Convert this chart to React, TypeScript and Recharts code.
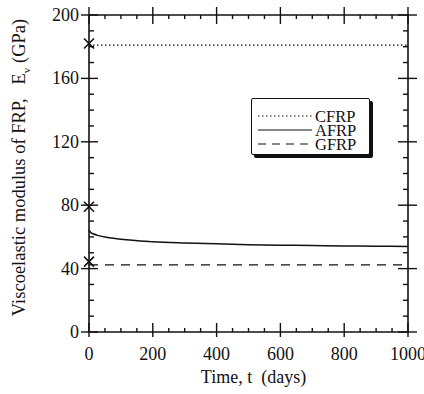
import React from 'react';
import { ComposedChart, Line, Scatter, XAxis, YAxis } from 'recharts';

// Viscoelastic modulus of FRP over time
const afrpDays = [0, 5, 15, 30, 60, 100, 200, 300, 400, 500, 600, 700, 800, 900, 1000];
const afrpValues = [64.5, 63, 61.8, 60.8, 59.6, 58.5, 57, 56.2, 55.6, 55.1, 54.8, 54.5, 54.3, 54.1, 54];
const cfrpDays = [0, 1000];
const cfrpValues = [181, 181];
const gfrpDays = [0, 1000];
const gfrpValues = [42.3, 42.3];
// initial (elastic) moduli marked with a cross at t = 0
const initialDays = [0, 0, 0];
const initialValues = [182, 79, 44.4];

const xMajor = [0, 200, 400, 600, 800, 1000];
const xTicks = [0, 50, 100, 150, 200, 250, 300, 350, 400, 450, 500, 550, 600, 650, 700, 750, 800, 850, 900, 950, 1000];
const yMajor = [0, 40, 80, 120, 160, 200];
const yTicks = [0, 10, 20, 30, 40, 50, 60, 70, 80, 90, 100, 110, 120, 130, 140, 150, 160, 170, 180, 190, 200];

const legendItems = [
  { name: 'CFRP', dash: '1.5 2.5' },
  { name: 'AFRP', dash: '' },
  { name: 'GFRP', dash: '8 6' },
];

const afrpData = afrpDays.map((t, i) => ({ t, v: afrpValues[i] }));
const cfrpData = cfrpDays.map((t, i) => ({ t, v: cfrpValues[i] }));
const gfrpData = gfrpDays.map((t, i) => ({ t, v: gfrpValues[i] }));
const initialData = initialDays.map((t, i) => ({ t, v: initialValues[i] }));

const INK = '#111';
const FONT = '"Liberation Serif", "DejaVu Serif", serif';

// tick renderers: (x, y) is the point on the axis line (tickSize/tickMargin = 0)
function BottomTick(props: any) {
  const { x, y, payload } = props;
  const major = xMajor.includes(payload.value);
  return (
    <g>
      <line x1={x} x2={x} y1={y - (major ? 9 : 4)} y2={y + (major ? 5 : 0)} stroke={INK} strokeWidth={1.4} />
      {major && (
        <text x={x} y={y + 28} textAnchor="middle" fontSize={18} fontFamily={FONT} fill={INK}>
          {payload.value}
        </text>
      )}
    </g>
  );
}

function TopTick(props: any) {
  const { x, y, payload } = props;
  const major = xMajor.includes(payload.value);
  return <line x1={x} x2={x} y1={y - (major ? 8 : 0)} y2={y + (major ? 9 : 4)} stroke={INK} strokeWidth={1.4} />;
}

function LeftTick(props: any) {
  const { x, y, payload } = props;
  const major = yMajor.includes(payload.value);
  return (
    <g>
      <line x1={x - (major ? 8 : 0)} x2={x + (major ? 9 : 5)} y1={y} y2={y} stroke={INK} strokeWidth={1.4} />
      {major && (
        <text x={x - 10} y={y + 6} textAnchor="end" fontSize={18} fontFamily={FONT} fill={INK}>
          {payload.value}
        </text>
      )}
    </g>
  );
}

function RightTick(props: any) {
  const { x, y, payload } = props;
  const major = yMajor.includes(payload.value);
  return <line x1={x - (major ? 10 : 5)} x2={x + (major ? 9 : 0)} y1={y} y2={y} stroke={INK} strokeWidth={1.4} />;
}

function Cross(props: any) {
  const { cx, cy } = props;
  const s = 5;
  return (
    <g stroke={INK} strokeWidth={1.6}>
      <line x1={cx - s} y1={cy - s} x2={cx + s} y2={cy + s} />
      <line x1={cx - s} y1={cy + s} x2={cx + s} y2={cy - s} />
    </g>
  );
}

function YLabel(props: any) {
  const { viewBox } = props;
  const cy = viewBox.y + viewBox.height / 2 - 6;
  const cx = 25;
  return (
    <text
      x={cx}
      y={cy}
      transform={`rotate(-90 ${cx} ${cy})`}
      textAnchor="middle"
      fontSize={18.5}
      fontFamily={FONT}
      fill={INK}
    >
      Viscoelastic modulus of FRP,{'\u00a0\u00a0\u00a0'}E
      <tspan fontSize={11} dy={5}>v</tspan>
      <tspan dy={-5}>{'\u00a0'}(GPa)</tspan>
    </text>
  );
}

function XLabel(props: any) {
  const { viewBox } = props;
  const cx = viewBox.x + viewBox.width / 2 + 5;
  return (
    <text x={cx} y={viewBox.y + 51} textAnchor="middle" fontSize={18} fontFamily={FONT} fill={INK}>
      Time, t{'\u00a0\u00a0'}(days)
    </text>
  );
}

function LegendBox() {
  return (
    <div
      style={{
        position: 'absolute',
        left: 251,
        top: 98,
        width: 119,
        height: 57,
        boxSizing: 'border-box',
        border: `1.5px solid ${INK}`,
        boxShadow: `3px 3px 0 ${INK}`,
        background: '#fff',
        borderRadius: 2,
      }}
    >
      <svg width={116} height={54} style={{ display: 'block' }}>
        {legendItems.map((it, i) => (
          <g key={it.name}>
            <line
              x1={6}
              x2={60}
              y1={17 + i * 14}
              y2={17 + i * 14}
              stroke={INK}
              strokeWidth={1.2}
              strokeDasharray={it.dash || undefined}
            />
            <text x={63} y={23 + i * 14} fontSize={16.5} fontFamily={FONT} fill={INK}>
              {it.name}
            </text>
          </g>
        ))}
      </svg>
    </div>
  );
}

export default function App() {
  return (
    <div style={{ position: 'absolute', left: 0, top: 0, width: 424, height: 394, background: '#fff' }}>
      <ComposedChart width={424} height={394} margin={{ top: 14, right: 15, bottom: 0, left: 0 }}>
        <XAxis
          xAxisId="b"
          dataKey="t"
          type="number"
          domain={[0, 1000]}
          ticks={xTicks}
          interval={0}
          height={62}
          tickSize={0}
          tickMargin={0}
          tick={<BottomTick />}
          axisLine={{ stroke: INK, strokeWidth: 1.6 }}
          label={<XLabel />}
        />
        <XAxis
          xAxisId="t"
          orientation="top"
          dataKey="t"
          type="number"
          domain={[0, 1000]}
          ticks={xTicks}
          interval={0}
          height={1}
          tickSize={0}
          tickMargin={0}
          tick={<TopTick />}
          axisLine={{ stroke: INK, strokeWidth: 1.6 }}
        />
        <YAxis
          yAxisId="l"
          type="number"
          domain={[0, 200]}
          ticks={yTicks}
          interval={0}
          width={89}
          tickSize={0}
          tickMargin={0}
          tick={<LeftTick />}
          axisLine={{ stroke: INK, strokeWidth: 1.6 }}
          label={<YLabel />}
        />
        <YAxis
          yAxisId="r"
          orientation="right"
          type="number"
          domain={[0, 200]}
          ticks={yTicks}
          interval={0}
          width={1}
          tickSize={0}
          tickMargin={0}
          tick={<RightTick />}
          axisLine={{ stroke: INK, strokeWidth: 1.6 }}
        />
        <Line
          xAxisId="b"
          yAxisId="l"
          data={cfrpData}
          dataKey="v"
          stroke={INK}
          strokeWidth={1.2}
          strokeDasharray="1.5 2.5"
          dot={false}
          isAnimationActive={false}
        />
        <Line
          xAxisId="b"
          yAxisId="l"
          data={afrpData}
          dataKey="v"
          type="monotone"
          stroke={INK}
          strokeWidth={1.5}
          dot={false}
          isAnimationActive={false}
        />
        <Line
          xAxisId="b"
          yAxisId="l"
          data={gfrpData}
          dataKey="v"
          stroke={INK}
          strokeWidth={1.3}
          strokeDasharray="9 7"
          dot={false}
          isAnimationActive={false}
        />
        <Line
          xAxisId="t"
          yAxisId="r"
          data={afrpData}
          dataKey="v"
          stroke="none"
          dot={false}
          legendType="none"
          isAnimationActive={false}
        />
        <Scatter
          xAxisId="b"
          yAxisId="l"
          data={initialData}
          dataKey="v"
          shape={<Cross />}
          isAnimationActive={false}
        />
      </ComposedChart>
      <LegendBox />
    </div>
  );
}
